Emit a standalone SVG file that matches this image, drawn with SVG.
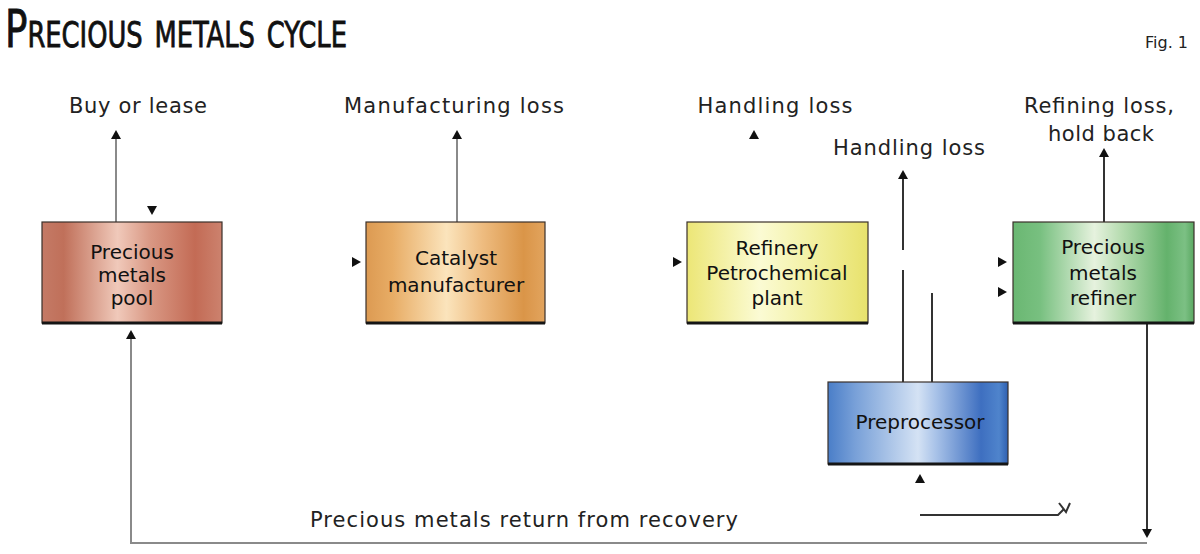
<svg xmlns="http://www.w3.org/2000/svg" xmlns:xlink="http://www.w3.org/1999/xlink" width="1200" height="554" viewBox="0 0 1200 554">
<style>
.lbl{font-family:"DejaVu Sans","Liberation Sans",sans-serif;font-size:21px;fill:#222;text-anchor:middle}
.box{stroke:#3a302a;stroke-width:1.2}
.base{stroke:#151515;stroke-width:3}
.btx{font-family:"DejaVu Sans","Liberation Sans",sans-serif;font-size:20px;fill:#111;text-anchor:middle}
.ln{stroke:#333;stroke-width:2;fill:none}
.lng{stroke:#8a8a8a;stroke-width:2;fill:none}
.ah{fill:#111}
</style>
<defs>
<path id="ah" d="M0,0 L-5,-9 L5,-9 Z"/>
<linearGradient id="gPool" x1="0" y1="0" x2="1" y2="0">
<stop offset="0" stop-color="#c47a66"/><stop offset="0.12" stop-color="#c0705a"/><stop offset="0.42" stop-color="#f0c9ba"/><stop offset="0.6" stop-color="#d99884"/><stop offset="0.85" stop-color="#c36b55"/><stop offset="1" stop-color="#cc826e"/>
</linearGradient>
<linearGradient id="gCat" x1="0" y1="0" x2="1" y2="0">
<stop offset="0" stop-color="#dc9a52"/><stop offset="0.15" stop-color="#e8ad66"/><stop offset="0.45" stop-color="#fbe4bc"/><stop offset="0.65" stop-color="#eebc80"/><stop offset="0.88" stop-color="#da9548"/><stop offset="1" stop-color="#e2a45e"/>
</linearGradient>
<linearGradient id="gRef" x1="0" y1="0" x2="1" y2="0">
<stop offset="0" stop-color="#ece676"/><stop offset="0.4" stop-color="#fbfbd4"/><stop offset="0.7" stop-color="#f2f0a0"/><stop offset="1" stop-color="#e8e26c"/>
</linearGradient>
<linearGradient id="gRfn" x1="0" y1="0" x2="1" y2="0">
<stop offset="0" stop-color="#6ab772"/><stop offset="0.15" stop-color="#78c080"/><stop offset="0.45" stop-color="#e6f2de"/><stop offset="0.6" stop-color="#b6dcb0"/><stop offset="0.85" stop-color="#64b26c"/><stop offset="0.95" stop-color="#7cc084"/><stop offset="1" stop-color="#5aa862"/>
</linearGradient>
<linearGradient id="gPre" x1="0" y1="0" x2="1" y2="0">
<stop offset="0" stop-color="#4a7ec8"/><stop offset="0.15" stop-color="#78a0d8"/><stop offset="0.5" stop-color="#d4e2f4"/><stop offset="0.6" stop-color="#a8c2e8"/><stop offset="0.85" stop-color="#3e6fc0"/><stop offset="0.95" stop-color="#4f84cc"/><stop offset="1" stop-color="#2e5fb0"/>
</linearGradient>
</defs>
<rect width="1200" height="554" fill="#fff"/>

<text x="5" y="47" font-family="'Liberation Sans Narrow','DejaVu Sans Condensed','Liberation Sans',sans-serif" font-size="52" font-variant="small-caps" fill="#111" stroke="#111" stroke-width="0.8" textLength="342" lengthAdjust="spacingAndGlyphs">Precious metals cycle</text>
<text x="1188" y="48" font-family="'DejaVu Sans','Liberation Sans',sans-serif" font-size="16" fill="#222" text-anchor="end">Fig. 1</text>

<g id="connectors">
<line class="lng" x1="116" y1="222" x2="116" y2="132"/>
<line class="lng" x1="457" y1="222" x2="457" y2="132"/>
<line class="ln" x1="903" y1="250" x2="903" y2="172"/>
<line class="ln" x1="903" y1="270" x2="903" y2="382"/>
<line class="ln" x1="932" y1="293" x2="932" y2="382"/>
<line class="ln" x1="1104" y1="222" x2="1104" y2="150"/>
<line class="ln" x1="1147" y1="323" x2="1147" y2="536"/>
<path class="lng" d="M1147,543 H131 V333"/>
<path class="ln" d="M920,515 H1058 L1064,509"/>
<path d="M1059,503 L1066,512 L1070,503" fill="none" stroke="#333" stroke-width="2"/>
<use xlink:href="#ah" class="ah" transform="translate(116,130) rotate(180)"/>
<use xlink:href="#ah" class="ah" transform="translate(152,215)"/>
<use xlink:href="#ah" class="ah" transform="translate(131,330) rotate(180)"/>
<use xlink:href="#ah" class="ah" transform="translate(457,130) rotate(180)"/>
<use xlink:href="#ah" class="ah" transform="translate(361,262) rotate(-90)"/>
<use xlink:href="#ah" class="ah" transform="translate(754,130) rotate(180)"/>
<use xlink:href="#ah" class="ah" transform="translate(682,262) rotate(-90)"/>
<use xlink:href="#ah" class="ah" transform="translate(903,170) rotate(180)"/>
<use xlink:href="#ah" class="ah" transform="translate(1104,148) rotate(180)"/>
<use xlink:href="#ah" class="ah" transform="translate(1007,262) rotate(-90)"/>
<use xlink:href="#ah" class="ah" transform="translate(1007,292) rotate(-90)"/>
<use xlink:href="#ah" class="ah" transform="translate(920,474) rotate(180)"/>
<use xlink:href="#ah" class="ah" transform="translate(1147,538)"/>
</g>

<g id="labels">
<text class="lbl" x="138" y="113" textLength="138">Buy or lease</text>
<text class="lbl" x="454" y="113" textLength="220">Manufacturing loss</text>
<text class="lbl" x="775" y="113" textLength="155">Handling loss</text>
<text class="lbl" x="909" y="155" textLength="152">Handling loss</text>
<text class="lbl" x="1099" y="113" textLength="150">Refining loss,</text>
<text class="lbl" x="1101" y="141" textLength="106">hold back</text>
<text class="lbl" x="524" y="527" textLength="428">Precious metals return from recovery</text>
</g>

<g id="pool">
<rect class="box" x="42" y="222" width="180" height="101" fill="url(#gPool)"/>
<line class="base" x1="42" y1="323" x2="222" y2="323"/>
<text class="btx" x="132" y="259">Precious</text>
<text class="btx" x="132" y="282">metals</text>
<text class="btx" x="132" y="305">pool</text>
</g>

<g id="catalyst">
<rect class="box" x="366" y="222" width="179" height="101" fill="url(#gCat)"/>
<line class="base" x1="366" y1="323" x2="545" y2="323"/>
<text class="btx" x="456" y="265">Catalyst</text>
<text class="btx" x="456" y="292">manufacturer</text>
</g>

<g id="refinery">
<rect class="box" x="687" y="222" width="181" height="101" fill="url(#gRef)"/>
<line class="base" x1="687" y1="323" x2="868" y2="323"/>
<text class="btx" x="777" y="255">Refinery</text>
<text class="btx" x="777" y="280">Petrochemical</text>
<text class="btx" x="777" y="305">plant</text>
</g>

<g id="refiner">
<rect class="box" x="1013" y="222" width="181" height="101" fill="url(#gRfn)"/>
<line class="base" x1="1013" y1="323" x2="1194" y2="323"/>
<text class="btx" x="1103" y="254">Precious</text>
<text class="btx" x="1103" y="280">metals</text>
<text class="btx" x="1103" y="305">refiner</text>
</g>

<g id="preprocessor">
<rect class="box" x="828" y="382" width="180" height="82" fill="url(#gPre)"/>
<line class="base" x1="828" y1="464" x2="1008" y2="464"/>
<text class="btx" x="920" y="429">Preprocessor</text>
</g>
</svg>
